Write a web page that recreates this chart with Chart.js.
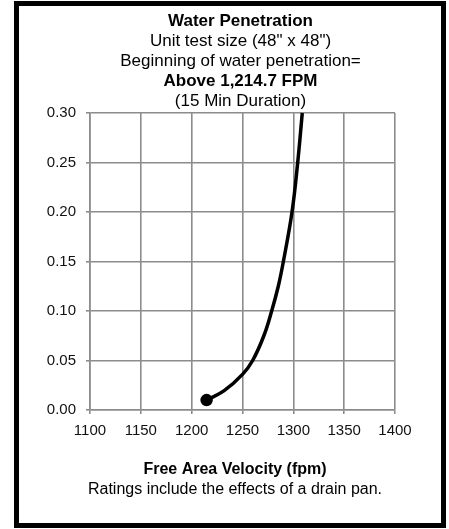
<!DOCTYPE html>
<html>
<head>
<meta charset="utf-8">
<script src="https://cdn.jsdelivr.net/npm/chart.js@4/dist/chart.umd.min.js"></script>
<style>
  html, body { margin: 0; padding: 0; background: #fff; }
  #wrap { position: relative; width: 449px; height: 529px; }
  canvas { display: block; }
</style>
</head>
<body>
<div id="wrap"><canvas id="c" width="449" height="529"></canvas></div>
<script>
// ---- data ----
const velocity    = [1214.7, 1232, 1250, 1260, 1271, 1278.7, 1285.2, 1290.2, 1298.7, 1304.3, 1308.8];
const penetration = [0.01, 0.0195, 0.036, 0.05, 0.075, 0.10, 0.125, 0.15, 0.20, 0.25, 0.30];
const xTicks = [1100, 1150, 1200, 1250, 1300, 1350, 1400];
const yTicks = [0.00, 0.05, 0.10, 0.15, 0.20, 0.25, 0.30];
const headerLines = ["Water Penetration", 'Unit test size (48" x 48")', "Beginning of water penetration=", "Above 1,214.7 FPM", "(15 Min Duration)"];
const headerBold  = [true, false, false, true, false];
const xTitle = "Free Area Velocity (fpm)";
const noteLine = "Ratings include the effects of a drain pan.";

const FONT = "'Liberation Sans', Arial, sans-serif";

const textPlugin = {
  id: 'textPlugin',
  beforeDraw(chart) {
    const ctx = chart.ctx;
    ctx.save();
    ctx.fillStyle = '#fff';
    ctx.fillRect(0, 0, chart.width, chart.height);
    ctx.restore();
  },
  afterDraw(chart) {
    const ctx = chart.ctx;
    ctx.save();
    ctx.strokeStyle = '#000';
    ctx.lineWidth = 5;
    ctx.strokeRect(16.5, 3.5, 427, 522);
    ctx.fillStyle = '#000';
    ctx.textAlign = 'center';
    ctx.textBaseline = 'middle';
    const hx = 240.5;
    headerLines.forEach((t, i) => {
      ctx.font = (headerBold[i] ? 'bold ' : '') + '17px ' + FONT;
      ctx.fillText(t, hx, 21 + i * 20.2);
    });
    ctx.font = 'bold 16px ' + FONT;
    ctx.fillText(xTitle, 235, 469.5);
    ctx.font = '16px ' + FONT;
    ctx.fillText(noteLine, 235, 489.5);
    ctx.restore();
  }
};

new Chart(document.getElementById('c'), {
  type: 'line',
  data: {
    datasets: [{
      data: velocity.map((v, i) => ({ x: v, y: penetration[i] })),
      borderColor: '#000',
      backgroundColor: '#000',
      borderWidth: 3.5,
      tension: 0.4,
      pointRadius: velocity.map((v, i) => i === 0 ? 4.5 : 0),
      pointHoverRadius: 0,
      fill: false,
      clip: false
    }]
  },
  options: {
    responsive: false,
    animation: false,
    events: [],
    layout: { padding: { left: 0, top: 113, right: 54, bottom: 89 } },
    plugins: { legend: { display: false }, tooltip: { enabled: false }, title: { display: false } },
    scales: {
      x: {
        type: 'linear',
        min: 1100, max: 1400,
        afterBuildTicks: s => { s.ticks = xTicks.map(v => ({ value: v })); },
        afterFit: s => { s.height = 30; },
        grid: { color: '#8c8c8c', lineWidth: 1.6, tickLength: 4, drawTicks: true },
        border: { color: '#8c8c8c', width: 1.6 },
        ticks: { color: '#111', font: { family: FONT, size: 15 }, padding: 8, maxRotation: 0, autoSkip: false,
                 callback: v => String(v) },
        title: { display: false }
      },
      y: {
        type: 'linear',
        min: 0, max: 0.30,
        afterBuildTicks: s => { s.ticks = yTicks.map(v => ({ value: v })); },
        afterFit: s => { s.width = 90; },
        grid: { color: '#8c8c8c', lineWidth: 1.6, tickLength: 4, drawTicks: true },
        border: { color: '#8c8c8c', width: 1.6 },
        ticks: { color: '#111', font: { family: FONT, size: 15 }, padding: 10, autoSkip: false,
                 callback: v => Number(v).toFixed(2) }
      }
    }
  },
  plugins: [textPlugin]
});
</script>
</body>
</html>
